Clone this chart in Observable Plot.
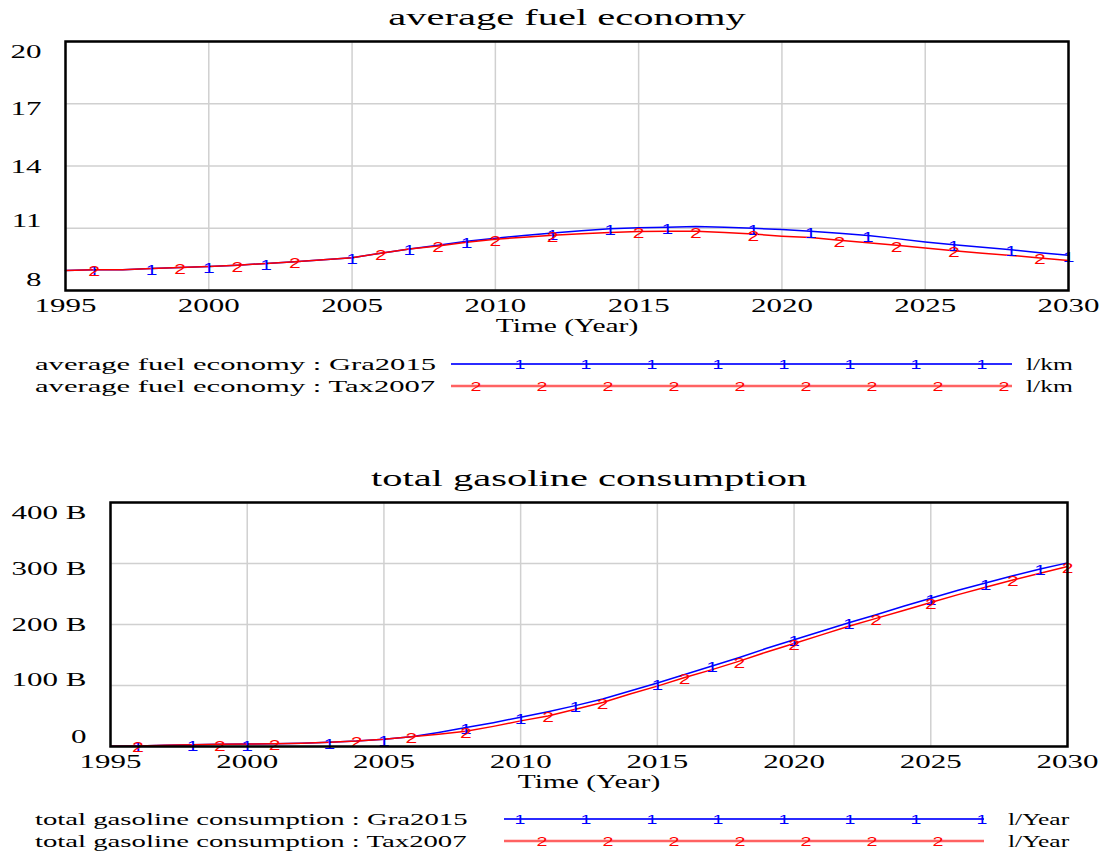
<!DOCTYPE html>
<html><head><meta charset="utf-8">
<script src="https://cdn.jsdelivr.net/npm/d3@7"></script>
<script src="https://cdn.jsdelivr.net/npm/@observablehq/plot@0.6"></script>
<style>
body{margin:0;background:#fff;}
#root{position:relative;width:1106px;height:852px;overflow:hidden;font-family:"Liberation Serif",serif;}
.blk{position:absolute;left:0;}
</style></head><body><div id="root"></div>
<script>
// ---------- data ----------
const years = [1995,1996,1997,1998,1999,2000,2001,2002,2003,2004,2005,2006,2007,2008,2009,2010,2011,2012,2013,2014,2015,2016,2017,2018,2019,2020,2021,2022,2023,2024,2025,2026,2027,2028,2029,2030];
const seriesNames = ["Gra2015", "Tax2007"];
const xTicks = [1995, 2000, 2005, 2010, 2015, 2020, 2025, 2030];

// average fuel economy (l/km)
const fuelGra2015 = [8.96,9.0,9.0,9.06,9.11,9.16,9.22,9.30,9.38,9.48,9.58,9.80,10.0,10.18,10.37,10.52,10.65,10.77,10.88,10.97,11.02,11.05,11.08,11.05,11.0,10.94,10.86,10.76,10.65,10.5,10.34,10.2,10.08,9.96,9.82,9.7];
const fuelTax2007 = [8.96,9.0,9.0,9.06,9.11,9.16,9.22,9.30,9.38,9.48,9.58,9.80,10.0,10.15,10.32,10.47,10.57,10.66,10.74,10.80,10.84,10.86,10.86,10.8,10.72,10.62,10.55,10.42,10.3,10.18,10.05,9.92,9.8,9.69,9.57,9.45];
const fuelYTicks = [8, 11, 14, 17, 20];
const fuelMarkers1 = [1996,1998,2000,2002,2005,2007,2009,2012,2014,2016,2019,2021,2023,2026,2028,2030];
const fuelMarkers2 = [1996,1999,2001,2003,2006,2008,2010,2012,2015,2017,2019,2022,2024,2026,2029];

// total gasoline consumption (billion l/Year)
const gasGra2015 = [0.5,1,2,3,3.5,4,4.5,5.5,7,9,12,16,23,31,39,48,57,67,78,91,104,118,132,146,161,175,189,203,216,230,243,256,268,280,291,301];
const gasTax2007 = [0.5,1,2,3,3.5,4,4.5,5.5,7,9,12,16,20,25,33,42,50,61,72,86,99,113,126,140,155,169,183,197,210,223,236,249,261,273,284,295];
const gasYTicks = [0, 100, 200, 300, 400];
const gasMarkers1 = [1996,1998,2000,2003,2005,2008,2010,2012,2015,2017,2020,2022,2025,2027,2029];
const gasMarkers2 = [1996,1999,2001,2004,2006,2008,2011,2013,2016,2018,2020,2023,2025,2028,2030];

const fuelTitle = "average fuel economy";
const gasTitle = "total gasoline consumption";
const xLabel = "Time (Year)";
const fuelUnit = "l/km";
const gasUnit = "l/Year";

// ---------- helpers ----------
const BLUE = "#0000ff", RED = "#ff0000";
function rows(a, b) {
  return [...years.map((y, i) => ({year: y, value: a[i], series: seriesNames[0]})),
          ...years.map((y, i) => ({year: y, value: b[i], series: seriesNames[1]}))];
}
function markerRows(a, b, m1, m2) {
  return [...m1.map(y => ({year: y, value: a[years.indexOf(y)], series: seriesNames[0], label: "1"})),
          ...m2.map(y => ({year: y, value: b[years.indexOf(y)], series: seriesNames[1], label: "2"}))];
}

function chart({a, b, m1, m2, yDomain, yTicks, yShift, fmt, mt, mb, ml, mr, title}) {
  return Plot.plot({
    width: 1106, height: 340,
    marginTop: mt, marginBottom: mb, marginLeft: ml, marginRight: mr,
    style: {fontFamily: "'Liberation Serif', serif", background: "transparent", overflow: "visible", color: "#000"},
    x: {domain: [1995, 2030]},
    y: {domain: yDomain},
    color: {domain: seriesNames, range: [BLUE, RED]},
    marks: [
      Plot.gridX(xTicks, {stroke: "#d0d0d0", strokeOpacity: 1, strokeWidth: 1.5}),
      Plot.gridY(yTicks, {stroke: "#d0d0d0", strokeOpacity: 1, strokeWidth: 1.5}),
      Plot.line(rows(a, b), {x: "year", y: "value", z: "series", stroke: "series", strokeWidth: 1.5}),
      Plot.text(markerRows(a, b, m1, m2), {x: "year", y: "value", text: "label", fill: "series",
        fontFamily: "'Liberation Sans', Arial, sans-serif", fontSize: 14, dy: 2}),
      Plot.frame({stroke: "#000", strokeWidth: 2.5}),
      Plot.axisX(xTicks, {tickSize: 0, tickPadding: 8, tickFormat: d => String(d), fontSize: 19, label: null}),
      ...yTicks.map((t, i) => Plot.axisY([t], {tickSize: 0, tickPadding: 24, tickFormat: fmt, fontSize: 19, label: null, dy: yShift[i]})),
      Plot.text([title], {frameAnchor: "top", lineAnchor: "middle", dy: -24, fontSize: 23}),
      Plot.text([xLabel], {frameAnchor: "bottom", lineAnchor: "middle", dy: 35, fontSize: 19})
    ]
  });
}

function stretchEl(t, f) {
  const w = t.getComputedTextLength();
  if (w > 0) {
    t.setAttribute("textLength", (w * f).toFixed(1));
    t.setAttribute("lengthAdjust", "spacingAndGlyphs");
  }
}
function stretch(root, selector, f, match) {
  root.querySelectorAll(selector).forEach(t => {
    if (!match || match(t.textContent)) stretchEl(t, f);
  });
}

function legend(host, top, height, rowsY, name, unit, lineX0, lineX1, unitX, m1, m2, f) {
  const svg = d3.select(host).append("svg")
    .attr("class", "blk").style("top", top + "px")
    .attr("width", 1106).attr("height", height);
  const defs = [
    {y: rowsY[0], series: seriesNames[0], color: "#2b2bff", w: 2, marks: m1, lab: "1", op: 1},
    {y: rowsY[1], series: seriesNames[1], color: "#ff3b3b", w: 2.5, marks: m2, lab: "2", op: 0.8}
  ];
  defs.forEach(d => {
    svg.append("text").attr("class", "lt").attr("x", 35).attr("y", d.y).attr("dy", "0.35em")
      .attr("font-family", "'Liberation Serif', serif").attr("font-size", 17)
      .text(`${name} : ${d.series}`);
    svg.append("line").attr("x1", lineX0).attr("x2", lineX1).attr("y1", d.y).attr("y2", d.y)
      .attr("stroke", d.color).attr("stroke-width", d.w).attr("stroke-opacity", d.op);
    d.marks.forEach(x => svg.append("text").attr("class", "lm").attr("x", x).attr("y", d.y).attr("dy", "0.35em")
      .attr("text-anchor", "middle").attr("font-family", "'Liberation Sans', Arial, sans-serif")
      .attr("font-size", 13).attr("fill", d.lab === "1" ? BLUE : RED).text(d.lab));
    svg.append("text").attr("class", "lu").attr("x", unitX).attr("y", d.y).attr("dy", "0.35em")
      .attr("font-family", "'Liberation Serif', serif").attr("font-size", 17).text(unit);
  });
  const node = svg.node();
  stretch(node, "text.lt", f);
  stretch(node, "text.lu", 1.5);
  stretch(node, "text.lm", 1.5);
}

// ---------- build ----------
const root = document.getElementById("root");

const top1 = chart({a: fuelGra2015, b: fuelTax2007, m1: fuelMarkers1, m2: fuelMarkers2,
  yDomain: [8, 20], yTicks: fuelYTicks, yShift: [-11, -7, 1, 5, 10], fmt: d => String(d),
  mt: 41, mb: 50, ml: 65, mr: 38, title: fuelTitle});
top1.classList.add("blk"); top1.style.top = "0px";
root.appendChild(top1);

const bot1 = chart({a: gasGra2015, b: gasTax2007, m1: gasMarkers1, m2: gasMarkers2,
  yDomain: [0, 400], yTicks: gasYTicks, yShift: [-10, -6, 0, 5, 10], fmt: d => d === 0 ? "0" : d + " B",
  mt: 42, mb: 54, ml: 110, mr: 39, title: gasTitle});
bot1.classList.add("blk"); bot1.style.top = "460px";
root.appendChild(bot1);

[[top1, fuelTitle], [bot1, gasTitle]].forEach(([svg, ttl]) => {
  stretch(svg, 'g[aria-label="text"] text', 1.76, s => s === ttl);
  stretch(svg, 'g[aria-label="text"] text', 1.55, s => s === xLabel);
  stretch(svg, 'g[aria-label="text"] text', 1.5, s => s === "1" || s === "2");
  stretch(svg, 'g[aria-label="x-axis tick label"] text', 1.63);
  stretch(svg, 'g[aria-label="y-axis tick label"] text', 1.63);
});

legend(root, 340, 60, [24, 46], "average fuel economy", fuelUnit, 451, 1012, 1026,
  d3.range(520, 990, 66), d3.range(476, 1010, 66), 1.8);
legend(root, 800, 52, [19, 41], "total gasoline consumption", gasUnit, 504, 984, 1008,
  d3.range(520, 990, 66), d3.range(542, 945, 66), 1.69);
</script></body></html>
